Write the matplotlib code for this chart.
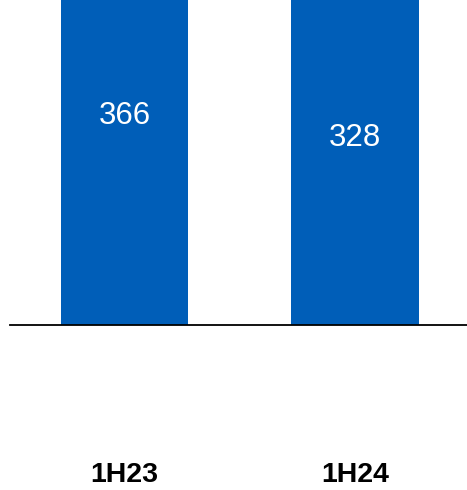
import matplotlib
matplotlib.use("Agg")
from matplotlib import pyplot as plt

categories = ['1H23', '1H24']
values = [366, 328]

plt.rcParams['font.family'] = ['Liberation Sans', 'DejaVu Sans']

fig = plt.figure(figsize=(4.67, 4.9), dpi=100)
# axes: baseline at y=325px, top clipped at figure top
ax = fig.add_axes([10/467, 1 - 325/490, 457/467, 325/490])

x = list(range(len(categories)))
ax.bar(x, values, width=0.553, color='#005EB8')

# value labels sit in the middle of each (clipped) bar
for xi, v in zip(x, values):
    ax.annotate(str(v), (xi, v/2), xytext=(0, -2), textcoords='offset points',
                ha='center', va='center', color='white', fontsize=22.5)

ax.set_ylim(0, 280.6)
ax.set_xlim(-0.497, 1.486)

for s in ['top', 'right', 'left']:
    ax.spines[s].set_visible(False)
ax.spines['bottom'].set_linewidth(1.3)
ax.spines['bottom'].set_color('black')
ax.set_yticks([])
ax.set_xticks(x)
ax.set_xticklabels(categories, fontsize=20.5, fontweight='bold')
ax.tick_params(axis='x', length=0, pad=99)

fig.savefig('out.png', dpi=100)
